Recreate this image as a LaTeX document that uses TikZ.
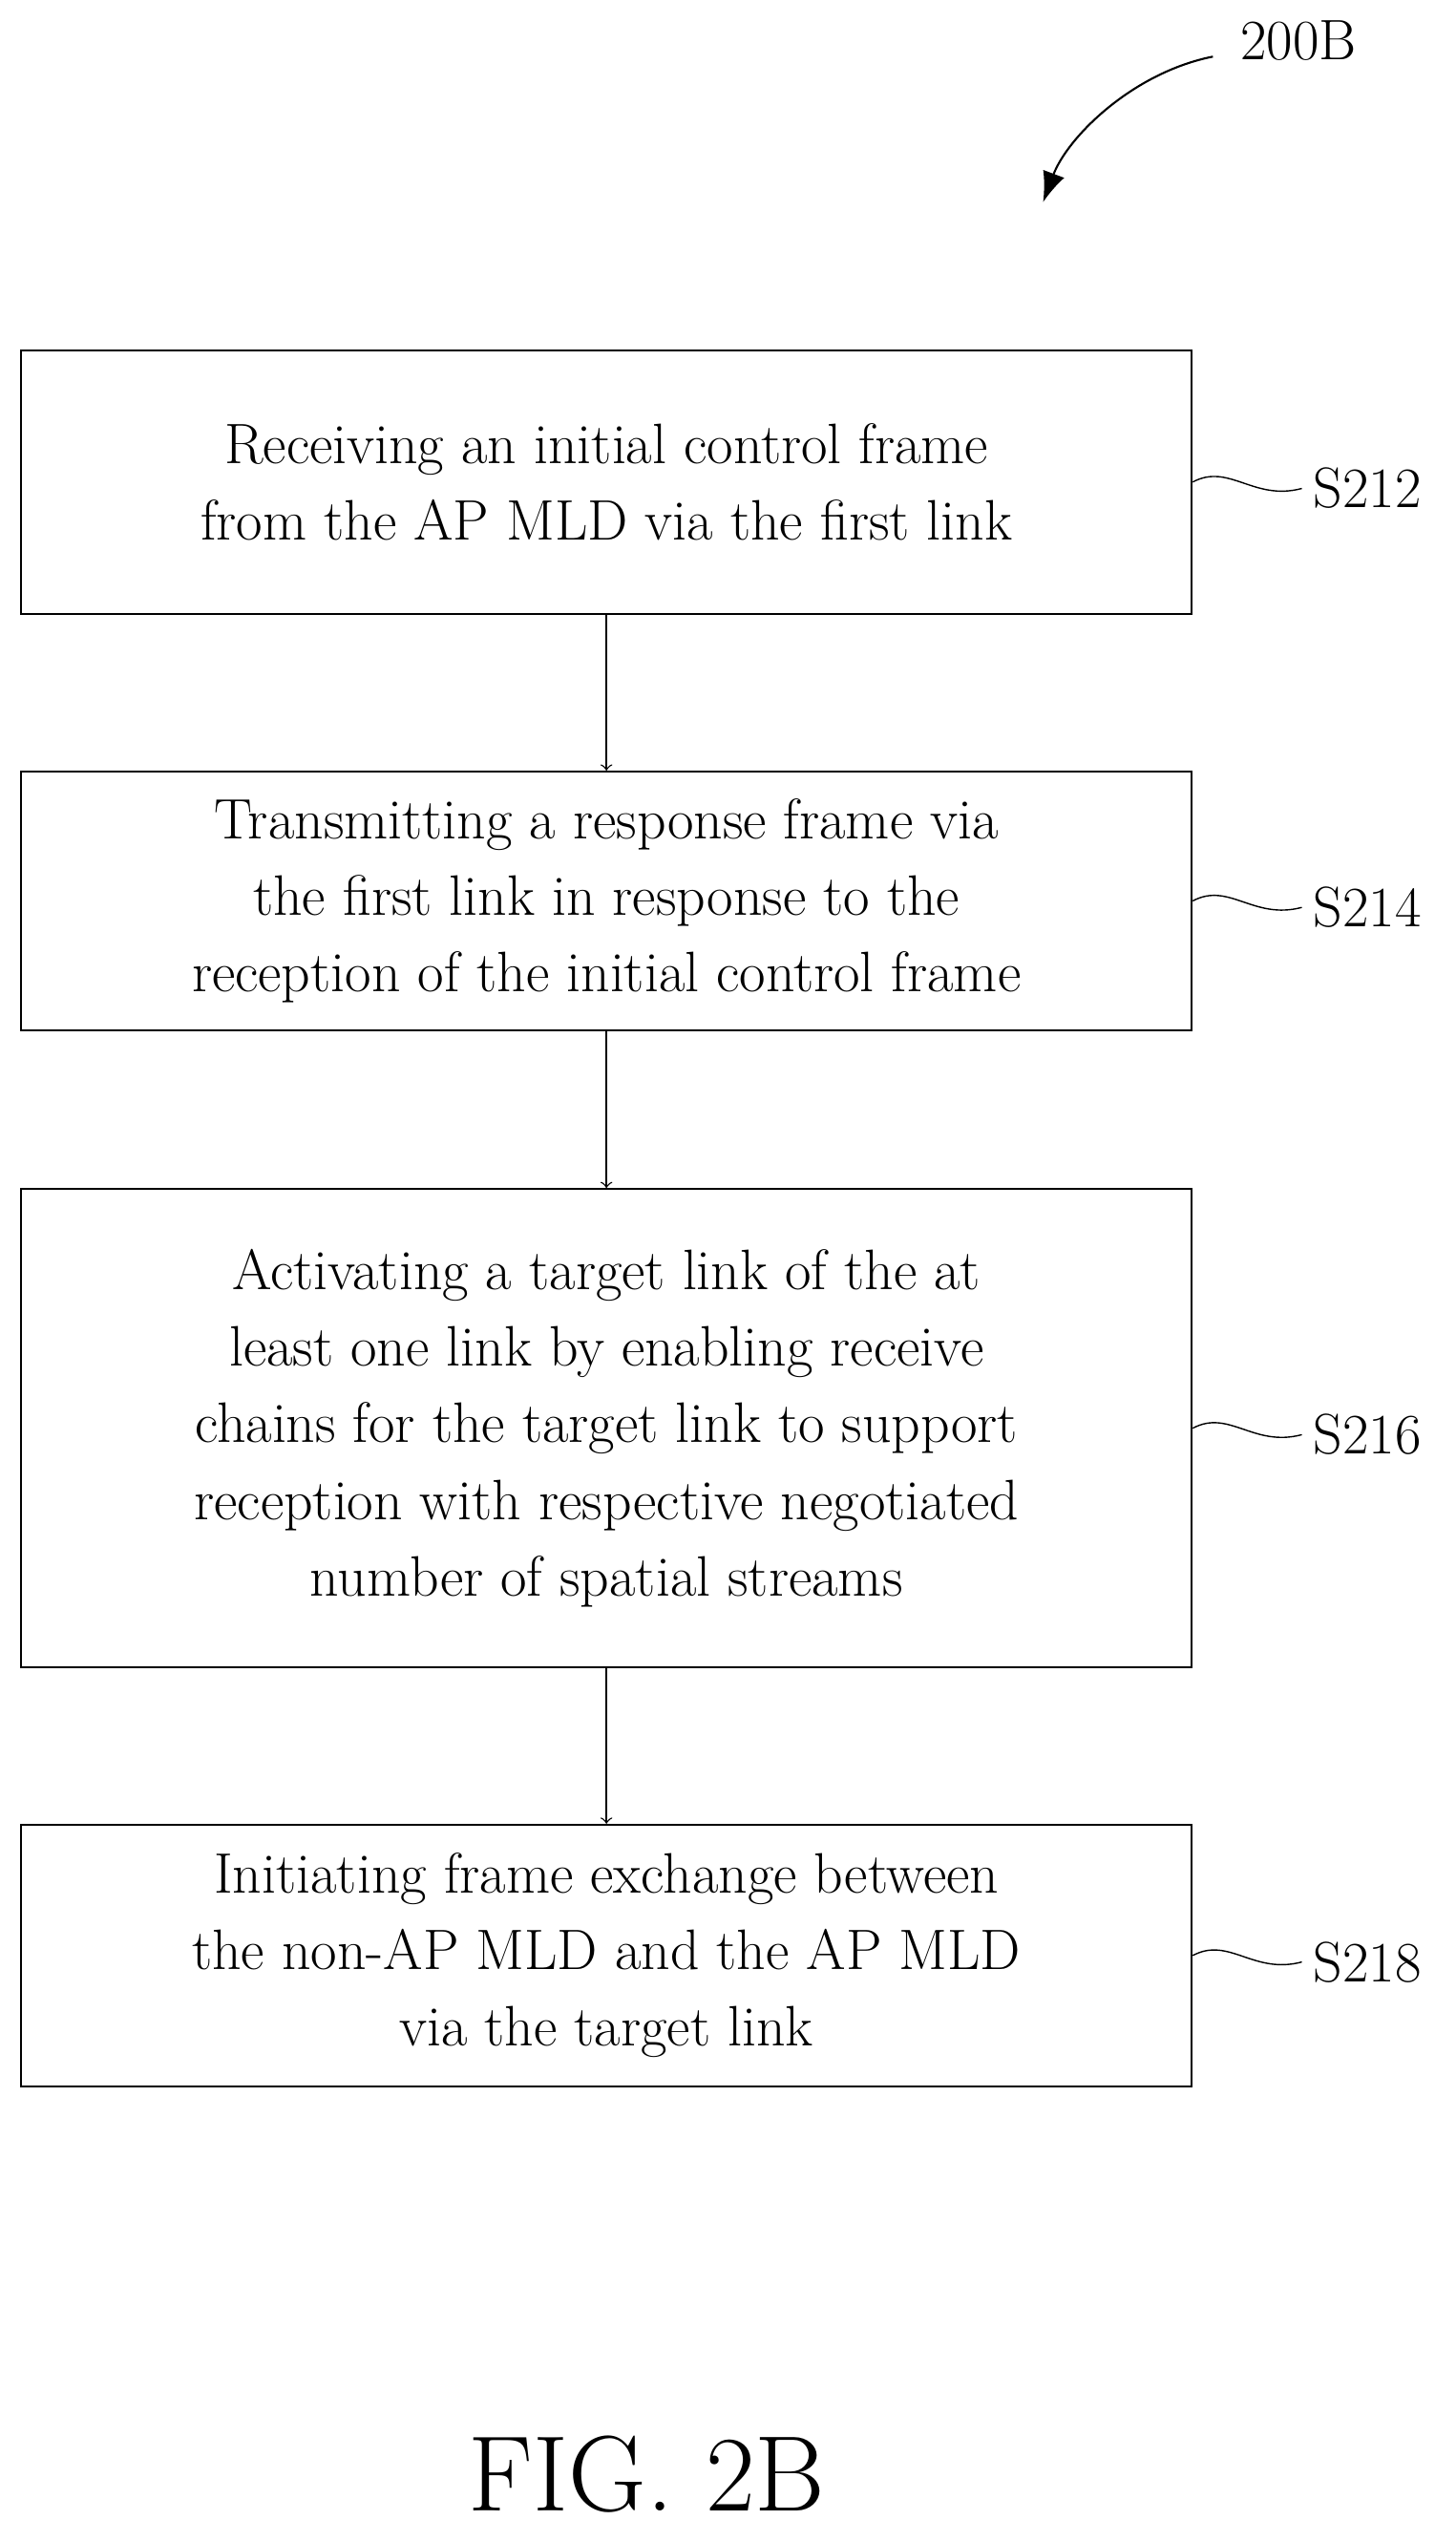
\documentclass[tikz,border=0pt]{standalone}
\usetikzlibrary{positioning,arrows.meta}
\tikzset{
  stepbox/.style = {draw, semithick, minimum width=12.26cm, align=center,
                 font=\fontsize{17}{22.8}\selectfont},
  tag/.style  = {font=\fontsize{17}{20}\selectfont, anchor=west},
  flow/.style = {->, >=to, thin}
}
\begin{document}
\begin{tikzpicture}[x=0.016933cm, y=-0.016933cm]
  \useasboundingbox (0,0) rectangle (900,1571);

  \node (title) at (803,25) [font=\fontsize{17}{20}\selectfont] {200B};
  \coordinate (tip) at (645,125);
  \draw [semithick, -{Latex[length=9pt]}] (750,35) .. controls (700,45) and (660,85) .. (tip);

  \node (s212) [stepbox, minimum height=2.76cm] at (375,298)
    {Receiving an initial control frame\\from the AP MLD via the first link};
  \node (s214) [stepbox, minimum height=2.71cm] at (375,557)
    {Transmitting a response frame via\\the first link in response to the\\reception of the initial control frame};
  \node (s216) [stepbox, minimum height=5.01cm] at (375,883)
    {Activating a target link of the at\\least one link by enabling receive\\chains for the target link to support\\reception with respective negotiated\\number of spatial streams};
  \node (s218) [stepbox, minimum height=2.74cm] at (375,1209)
    {Initiating frame exchange between\\the non-AP MLD and the AP MLD\\via the target link};

  \draw [flow] (s212) -- (s214);
  \draw [flow] (s214) -- (s216);
  \draw [flow] (s216) -- (s218);

  \foreach \s/\n/\y in {s212/S212/298, s214/S214/557, s216/S216/883, s218/S218/1209} {
    \node (t\n) [tag] at (805,\y+4) {\n};
    \draw [thin] (\s.east) .. controls (760,\y-12) and (775,\y+12) .. (t\n.west);
  }

  \node (fig) at (400,1530) [font=\fontsize{32}{36}\selectfont] {FIG. 2B};
\end{tikzpicture}
\end{document}
